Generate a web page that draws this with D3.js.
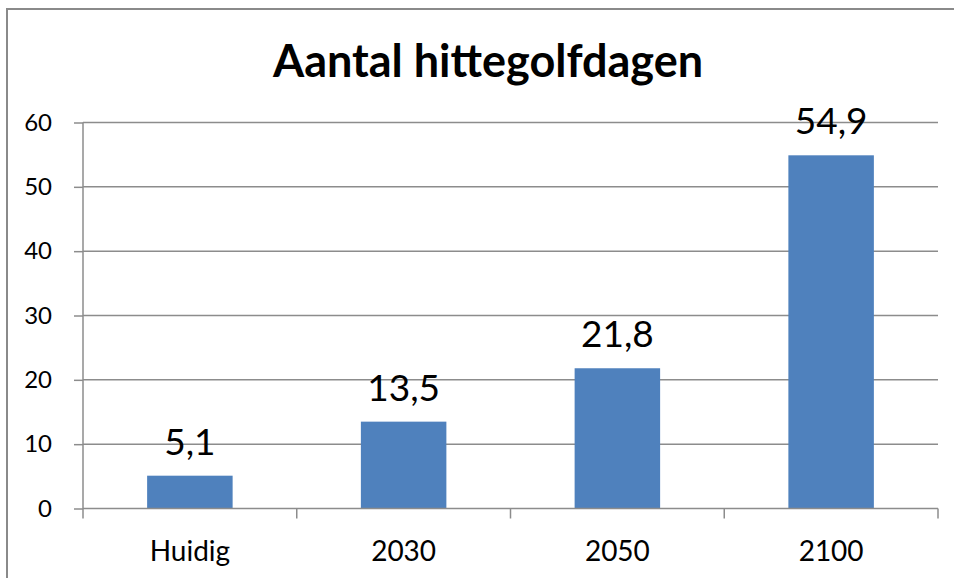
<!DOCTYPE html>
<html>
<head>
<meta charset="utf-8">
<script src="https://cdn.jsdelivr.net/npm/d3@7"></script>
<style>
  html, body { margin: 0; padding: 0; background: #fff; }
  svg { display: block; font-family: Lato, "Open Sans", sans-serif; }
</style>
</head>
<body>
<div id="chart"></div>
<script>
const categories = ['Huidig', '2030', '2050', '2100'];
const values = [5.1, 13.5, 21.8, 54.9];
const yTicks = [0, 10, 20, 30, 40, 50, 60];
const title = 'Aantal hittegolfdagen';

const width = 954;
const height = 578;
const margin = {top: 122.5, right: 16, bottom: 69.5, left: 83};

const nl = d3.formatLocale({decimal: ',', thousands: '.', grouping: [3], currency: ['€', '']});
const fmt = nl.format('.1f');

const svg = d3.select('#chart')
    .append('svg')
    .attr('width', width)
    .attr('height', height);

// chart frame (cropped at right and bottom in the original)
svg.append('rect')
    .attr('x', 7)
    .attr('y', 9)
    .attr('width', 980)
    .attr('height', 600)
    .attr('fill', 'none')
    .attr('stroke', '#8a8a8a')
    .attr('stroke-width', 2);

svg.append('text')
    .attr('x', 488)
    .attr('y', 77)
    .attr('text-anchor', 'middle')
    .attr('font-weight', 'bold')
    .attr('font-size', 45)
    .attr('fill', '#000')
    .text(title);

const x = d3.scaleBand()
    .domain(categories)
    .range([margin.left, width - margin.right])
    .paddingInner(0.6)
    .paddingOuter(0.3);

const y = d3.scaleLinear()
    .domain([0, 60])
    .range([height - margin.bottom, margin.top]);

// gridlines
svg.append('g')
    .selectAll('line')
    .data(yTicks.filter((d) => d > 0))
    .join('line')
    .attr('x1', margin.left)
    .attr('x2', width - margin.right)
    .attr('y1', (d) => y(d))
    .attr('y2', (d) => y(d))
    .attr('stroke', '#8c8c8c')
    .attr('stroke-width', 1.5);

// y axis
const yAxis = svg.append('g')
    .attr('transform', `translate(${margin.left},0)`)
    .call(d3.axisLeft(y).tickValues(yTicks).tickSize(9).tickPadding(22).tickSizeOuter(0));
yAxis.select('.domain').remove();
yAxis.selectAll('.tick line').attr('stroke', '#8c8c8c').attr('stroke-width', 1.5);
yAxis.append('line')
    .attr('y1', y(60))
    .attr('y2', y(0) + 10)
    .attr('stroke', '#8c8c8c')
    .attr('stroke-width', 1.5);
yAxis.selectAll('.tick text')
    .attr('font-size', 24)
    .attr('fill', '#000')
    .attr('font-family', 'Lato, sans-serif');

// bars
svg.append('g')
    .selectAll('rect')
    .data(values)
    .join('rect')
    .attr('x', (d, i) => x(categories[i]))
    .attr('y', (d) => y(d))
    .attr('width', x.bandwidth())
    .attr('height', (d) => y(0) - y(d))
    .attr('fill', '#4f81bd');

// data labels
svg.append('g')
    .selectAll('text')
    .data(values)
    .join('text')
    .attr('x', (d, i) => x(categories[i]) + x.bandwidth() / 2)
    .attr('y', (d) => y(d) - 21)
    .attr('text-anchor', 'middle')
    .attr('font-size', 37)
    .attr('fill', '#000')
    .text((d) => fmt(d));

// x axis
const xAxis = svg.append('g')
    .attr('transform', `translate(0,${y(0)})`)
    .call(d3.axisBottom(x).tickSize(0).tickSizeOuter(0));
xAxis.select('.domain')
    .attr('d', `M${margin.left},0H${width - margin.right}`)
    .attr('stroke', '#8c8c8c')
    .attr('stroke-width', 1.5);
xAxis.selectAll('.tick text')
    .attr('y', 52)
    .attr('dy', 0)
    .attr('font-size', 28)
    .attr('fill', '#000')
    .attr('font-family', 'Lato, sans-serif');

// category boundary ticks
const step = x.step();
const bounds = categories.map((c) => x(c) - step * x.paddingOuter() + step);
xAxis.selectAll('.bound')
    .data(bounds)
    .join('line')
    .attr('class', 'bound')
    .attr('x1', (d) => d)
    .attr('x2', (d) => d)
    .attr('y1', 0)
    .attr('y2', 10)
    .attr('stroke', '#8c8c8c')
    .attr('stroke-width', 1.5);
</script>
</body>
</html>
